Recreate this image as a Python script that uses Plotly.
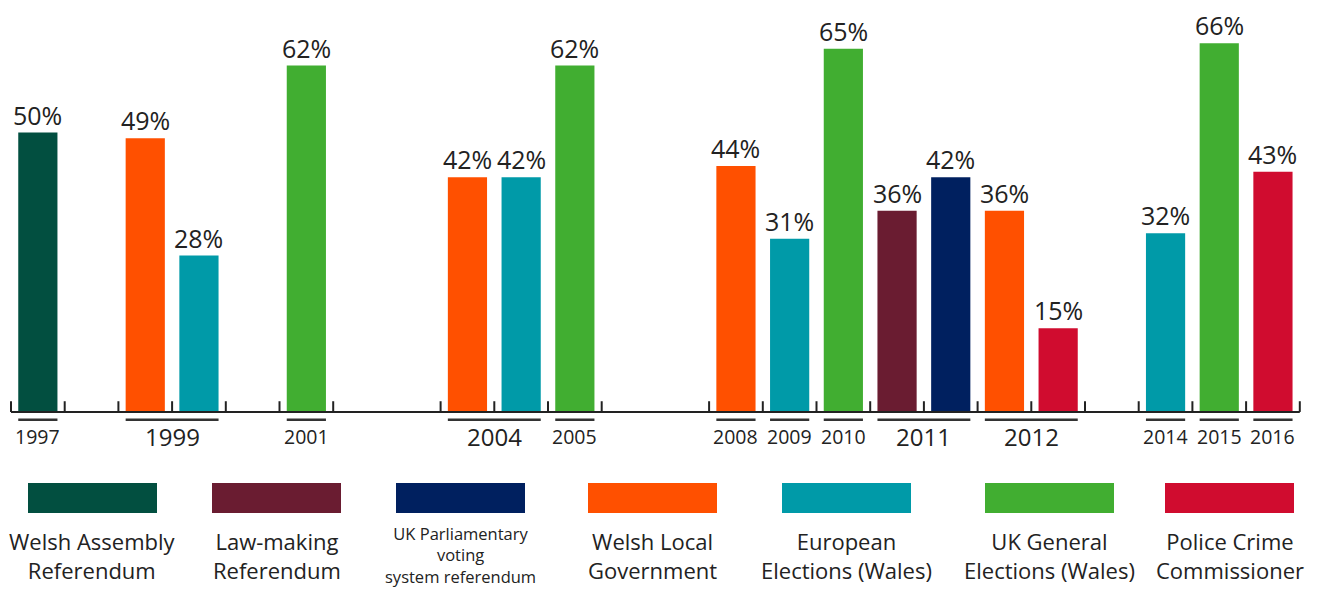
import plotly.graph_objects as go

# ---------------- data ----------------
categories = [
    "Welsh Assembly Referendum",
    "Law-making Referendum",
    "UK Parliamentary voting system referendum",
    "Welsh Local Government",
    "European Elections (Wales)",
    "UK General Elections (Wales)",
    "Police Crime Commissioner",
]
legend_lines = [
    ["Welsh Assembly", "Referendum"],
    ["Law-making", "Referendum"],
    ["UK Parliamentary", "voting", "system referendum"],
    ["Welsh Local", "Government"],
    ["European", "Elections (Wales)"],
    ["UK General", "Elections (Wales)"],
    ["Police Crime", "Commissioner"],
]
bar_years = [1997, 1999, 1999, 2001, 2004, 2004, 2005, 2008, 2009, 2010,
             2011, 2011, 2012, 2012, 2014, 2015, 2016]
bar_categories = [0, 3, 4, 5, 3, 4, 5, 3, 4, 5, 1, 2, 3, 6, 4, 5, 6]
turnout = [50, 49, 28, 62, 42, 42, 62, 44, 31, 65, 36, 42, 36, 15, 32, 66, 43]
group_years = [1997, 1999, 2001, 2004, 2005, 2008, 2009, 2010, 2011, 2012, 2014, 2015, 2016]

# ---------------- styling / layout ----------------
colors = ["#024F40", "#6A1C31", "#00205F", "#FF5000", "#009AA8", "#41AE31", "#D00C2F"]
# empty slots before each year group
gap_before = {1997: 0, 1999: 1, 2001: 1, 2004: 2, 2005: 0, 2008: 2, 2009: 0,
              2010: 0, 2011: 0, 2012: 0, 2014: 1, 2015: 0, 2016: 0}
big_year_font = {1999, 2004, 2011, 2012}

OFF = 8                      # page body margin
W, H = 1319 - 2 * OFF, 600 - 2 * OFF
X0 = 11.0 - OFF              # pixel of slot boundary 0
SLOT = 53.7                  # pixels per slot
BASE_PX = 415.0 - OFF        # pixel y of baseline
PX_PER_PCT = 5.74
BAR_W = 0.73
FONT = "Open Sans"
INK = "#222222"

# assign slots
slots = []
cur = 0
prev_year = None
for yr in bar_years:
    if yr != prev_year:
        cur += gap_before[yr]
        prev_year = yr
    slots.append(cur)
    cur += 1
n_slots = cur

xs = [s + 0.5 for s in slots]

def py(px_screen):  # screen pixel y -> data y
    return (BASE_PX - (px_screen - OFF)) / PX_PER_PCT

fig = go.Figure()
for ci, cat in enumerate(categories):
    idx = [i for i, c in enumerate(bar_categories) if c == ci]
    fig.add_trace(go.Bar(
        x=[xs[i] for i in idx], y=[turnout[i] for i in idx],
        width=BAR_W, marker=dict(color=colors[ci], line=dict(width=0)),
        name=cat, showlegend=False, hoverinfo="skip",
    ))

annotations = []
for x, v in zip(xs, turnout):
    annotations.append(dict(x=x, y=v, text=f"{v}%", showarrow=False,
                            yanchor="bottom", yshift=-1,
                            font=dict(family=FONT, size=25, color=INK)))

shapes = []
# baseline
shapes.append(dict(type="line", x0=0, x1=n_slots, y0=0, y1=0,
                   line=dict(color=INK, width=2)))
# ticks at edges of occupied slots
edges = sorted(set(slots) | set(s + 1 for s in slots))
for e in edges:
    shapes.append(dict(type="line", x0=e, x1=e, y0=0, y1=11 / PX_PER_PCT,
                       line=dict(color=INK, width=2)))
# underlines and year labels
for yr in group_years:
    gx = [xs[i] for i, y in enumerate(bar_years) if y == yr]
    x0 = min(gx) - BAR_W / 2
    x1 = max(gx) + BAR_W / 2
    shapes.append(dict(type="line", x0=x0, x1=x1, y0=py(423), y1=py(423),
                       line=dict(color="#333333", width=2.5)))
    annotations.append(dict(x=(x0 + x1) / 2, y=py(440), text=str(yr), showarrow=False,
                            yanchor="middle",
                            font=dict(family=FONT, size=24 if yr in big_year_font else 19.5,
                                      color=INK)))

# legend boxes (screen pixel positions)
legend_x = [28, 212, 396, 588, 782, 985, 1165]
LEG_W = 129
for ci, lx in enumerate(legend_x):
    shapes.append(dict(type="rect", xref="paper", yref="paper",
                       x0=(lx - OFF) / W, x1=(lx - OFF + LEG_W) / W,
                       y0=1 - (513 - OFF) / H, y1=1 - (483 - OFF) / H,
                       fillcolor=colors[ci], line=dict(width=0)))
    lines = legend_lines[ci]
    small = len(lines) == 3
    cx = (lx - OFF + LEG_W / 2) / W
    if small:
        annotations.append(dict(xref="paper", yref="paper", x=cx, y=1 - (589 - OFF) / H,
                                yanchor="bottom", xanchor="center", showarrow=False,
                                text="<br>".join(lines), align="center", borderpad=0,
                                font=dict(family=FONT, size=16.5, color=INK)))
    else:
        annotations.append(dict(xref="paper", yref="paper", x=cx, y=1 - (555.5 - OFF) / H,
                                yanchor="middle", xanchor="center", showarrow=False,
                                text="<br>".join(lines), align="center", borderpad=0,
                                font=dict(family=FONT, size=22, color=INK)))

fig.update_layout(
    width=W, height=H,
    margin=dict(l=0, r=0, t=0, b=0),
    paper_bgcolor="white", plot_bgcolor="white",
    barmode="overlay",
    xaxis=dict(range=[-X0 / SLOT, (W - X0) / SLOT], visible=False, fixedrange=True),
    yaxis=dict(range=[py(600), py(0)], visible=False, fixedrange=True),
    shapes=shapes, annotations=annotations,
    showlegend=False,
)

fig.write_html("out.html")
